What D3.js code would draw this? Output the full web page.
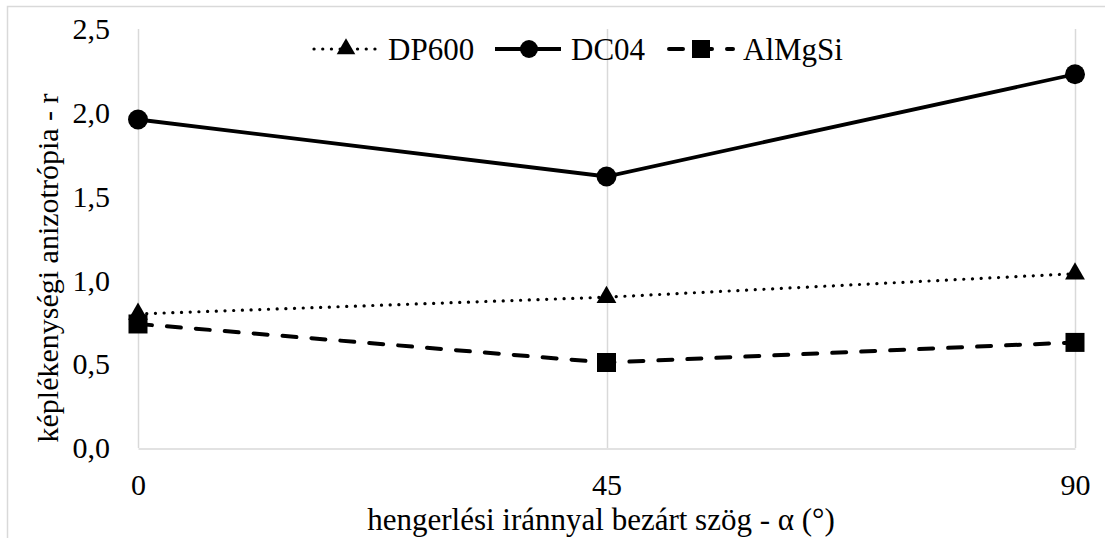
<!DOCTYPE html>
<html>
<head>
<meta charset="utf-8">
<script src="https://cdn.jsdelivr.net/npm/d3@7"></script>
</head>
<body style="margin:0">
<script>
// data
const categories = ['0', '45', '90'];
const dp600 = [0.80, 0.90, 1.04];
const dc04 = [1.96, 1.62, 2.23];
const almgsi = [0.74, 0.51, 0.63];
const yTicks = [0, 0.5, 1.0, 1.5, 2.0, 2.5];
const seriesNames = ['DP600', 'DC04', 'AlMgSi'];

const width = 1105, height = 538;
const plot = { left: 138, right: 1075, top: 29, bottom: 448 };
const font = '"Liberation Serif"';

const svg = d3.select('body').append('svg')
  .attr('width', width)
  .attr('height', height);

// outer chart border
svg.append('rect')
  .attr('x', 7.5).attr('y', 6.5)
  .attr('width', 1104).attr('height', 540)
  .attr('fill', 'none')
  .attr('stroke', '#d9d9d9')
  .attr('stroke-width', 1.5);

let xScale = d3.scalePoint()
  .domain(categories)
  .range([plot.left, plot.right]);

let yScale = d3.scaleLinear()
  .domain([0, 2.5])
  .range([plot.bottom, plot.top]);

const huFormat = d3.formatLocale({ decimal: ',', thousands: ' ', grouping: [3], currency: ['', ''] }).format('.1f');

// vertical gridlines
svg.append('g')
  .selectAll('line')
  .data(categories)
  .enter()
  .append('line')
  .attr('x1', d => Math.round(xScale(d)) + 0.5)
  .attr('x2', d => Math.round(xScale(d)) + 0.5)
  .attr('y1', plot.top)
  .attr('y2', plot.bottom)
  .attr('stroke', '#d9d9d9')
  .attr('stroke-width', 1.5);

// x axis
let xAxis = svg.append('g')
  .attr('transform', `translate(0, ${plot.bottom + 0.5})`)
  .call(d3.axisBottom(xScale).tickSize(0).tickPadding(25));
xAxis.select('.domain').attr('stroke', '#d9d9d9').attr('stroke-width', 1.5);
xAxis.selectAll('text')
  .attr('fill', '#000')
  .style('font-family', font)
  .style('font-size', '30px');

// y axis
let yAxis = svg.append('g')
  .attr('transform', `translate(${plot.left - 28}, 0)`)
  .call(d3.axisLeft(yScale).tickValues(yTicks).tickFormat(huFormat).tickSize(0).tickPadding(0));
yAxis.select('.domain').remove();
yAxis.selectAll('text')
  .attr('fill', '#000')
  .style('font-family', font)
  .style('font-size', '30px');

// axis titles
svg.append('text')
  .attr('x', 601)
  .attr('y', 530)
  .attr('text-anchor', 'middle')
  .style('font-family', font)
  .style('font-size', '31px')
  .text('hengerlési iránnyal bezárt szög - α (°)');

svg.append('text')
  .attr('transform', 'translate(58, 268) rotate(-90)')
  .attr('text-anchor', 'middle')
  .style('font-family', font)
  .style('font-size', '30px')
  .text('képlékenységi anizotrópia - r');

const series = [
  { name: seriesNames[0], values: dp600, dash: '0.1 8.6', width: 3.2, cap: 'round', symbol: d3.symbolTriangle, size: 170, legendSize: 150 },
  { name: seriesNames[1], values: dc04, dash: null, width: 3.8, cap: 'butt', symbol: d3.symbolCircle, size: 314, legendSize: 254 },
  { name: seriesNames[2], values: almgsi, dash: '14 15', width: 4, cap: 'round', symbol: d3.symbolSquare, size: 361, legendSize: 324 }
];

const line = d3.line()
  .x((d, i) => xScale(categories[i]))
  .y(d => yScale(d));

series.forEach(s => {
  svg.append('path')
    .datum(s.values)
    .attr('d', line)
    .attr('fill', 'none')
    .attr('stroke', '#000')
    .attr('stroke-width', s.width)
    .attr('stroke-linecap', s.cap)
    .attr('stroke-dasharray', s.dash);

  svg.append('g')
    .selectAll('path')
    .data(s.values)
    .enter()
    .append('path')
    .attr('d', d3.symbol().type(s.symbol).size(s.size))
    .attr('transform', (d, i) => `translate(${xScale(categories[i])}, ${yScale(d)})`)
    .attr('fill', '#000');
});

// legend
const legendX = [312, 495, 667];
const legendY = 49;
series.forEach((s, i) => {
  let g = svg.append('g').attr('transform', `translate(${legendX[i]}, ${legendY})`);
  g.append('line')
    .attr('x1', s.cap === 'round' ? 2 : 0).attr('x2', 66)
    .attr('y1', 0).attr('y2', 0)
    .attr('stroke', '#000')
    .attr('stroke-width', s.width)
    .attr('stroke-linecap', s.cap)
    .attr('stroke-dasharray', s.dash);
  g.append('path')
    .attr('d', d3.symbol().type(s.symbol).size(s.legendSize))
    .attr('transform', 'translate(34, 0)')
    .attr('fill', '#000');
  g.append('text')
    .attr('x', 76)
    .attr('y', 11)
    .style('font-family', font)
    .style('font-size', '31px')
    .text(s.name);
});
</script>
</body>
</html>
